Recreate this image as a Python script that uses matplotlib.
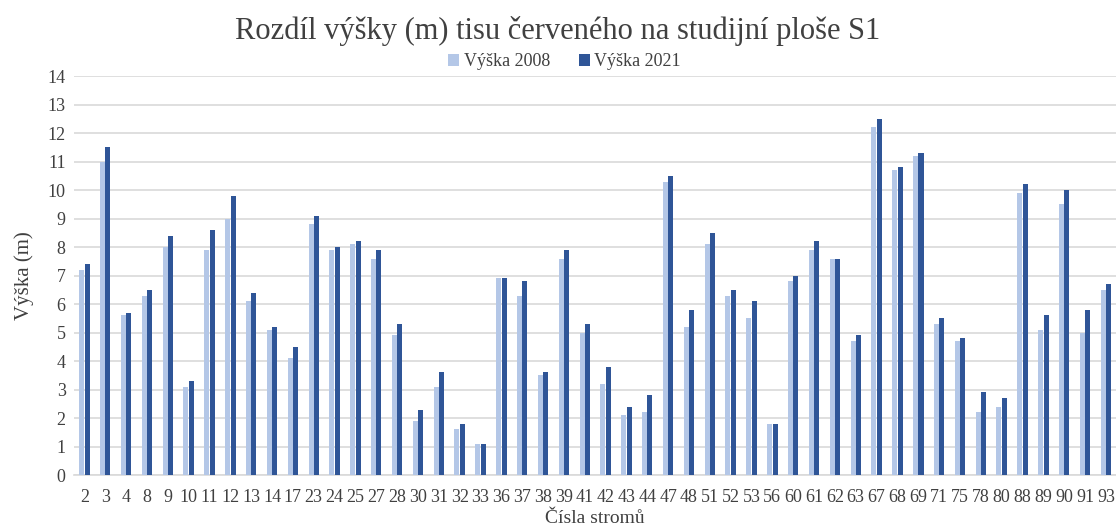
import matplotlib
matplotlib.use("Agg")
import matplotlib.pyplot as plt
import numpy as np

categories = ["2", "3", "4", "8", "9", "10", "11", "12", "13", "14", "17", "23", "24", "25", "27",
              "28", "30", "31", "32", "33", "36", "37", "38", "39", "41", "42", "43", "44", "47",
              "48", "51", "52", "53", "56", "60", "61", "62", "63", "67", "68", "69", "71", "75",
              "78", "80", "88", "89", "90", "91", "93"]
vyska_2008 = [7.2, 11.0, 5.6, 6.3, 8.0, 3.1, 7.9, 9.0, 6.1, 5.1, 4.1, 8.8, 7.9, 8.1, 7.6,
              4.9, 1.9, 3.1, 1.6, 1.1, 6.9, 6.3, 3.5, 7.6, 5.0, 3.2, 2.1, 2.2, 10.3,
              5.2, 8.1, 6.3, 5.5, 1.8, 6.8, 7.9, 7.6, 4.7, 12.2, 10.7, 11.2, 5.3, 4.7,
              2.2, 2.4, 9.9, 5.1, 9.5, 5.0, 6.5]
vyska_2021 = [7.4, 11.5, 5.7, 6.5, 8.4, 3.3, 8.6, 9.8, 6.4, 5.2, 4.5, 9.1, 8.0, 8.2, 7.9,
              5.3, 2.3, 3.6, 1.8, 1.1, 6.9, 6.8, 3.6, 7.9, 5.3, 3.8, 2.4, 2.8, 10.5,
              5.8, 8.5, 6.5, 6.1, 1.8, 7.0, 8.2, 7.6, 4.9, 12.5, 10.8, 11.3, 5.5, 4.8,
              2.9, 2.7, 10.2, 5.6, 10.0, 5.8, 6.7]
series_labels = ["Výška 2008", "Výška 2021"]
title = "Rozdíl výšky (m) tisu červeného na studijní ploše S1"
xlabel = "Čísla stromů"
ylabel = "Výška (m)"

plt.rcParams['font.family'] = ['Liberation Serif', 'DejaVu Serif']

fig = plt.figure(figsize=(11.16, 5.29), dpi=100)
ax = fig.add_axes([0.0663, 0.102, 0.934, 0.754])

x = np.arange(len(categories))
w = 0.24
c_light = "#B4C7E7"
c_dark = "#2F5597"
ax.bar(x - 0.13, vyska_2008, width=w, color=c_light, label=series_labels[0], zorder=3)
ax.bar(x + 0.13, vyska_2021, width=w, color=c_dark, label=series_labels[1], zorder=3)

ax.set_xlim(-0.5, len(categories) - 0.5)
ax.set_ylim(0, 14)
ax.set_yticks(range(0, 15))
ax.set_xticks(x)
ax.set_xticklabels(categories)
ax.tick_params(axis='both', length=0, labelsize=13, colors="#404040", pad=6)
ax.tick_params(axis='x', pad=10)
ax.grid(axis='y', color="#D9D9D9", linewidth=1.2, zorder=0)
for s in ["top", "right", "left"]:
    ax.spines[s].set_visible(False)
ax.spines["bottom"].set_color("#D9D9D9")
ax.spines["bottom"].set_linewidth(1.2)

ax.set_xlabel(xlabel, fontsize=14, color="#404040", labelpad=3)
ax.set_ylabel(ylabel, fontsize=15, color="#404040", labelpad=10)

fig.suptitle(title, fontsize=22, color="#404040", y=0.97)
leg = fig.legend(loc="upper center", bbox_to_anchor=(0.506, 0.93), ncol=2, frameon=False,
                 fontsize=13, handlelength=0.6, handleheight=0.6, handletextpad=0.25,
                 columnspacing=1.6, labelcolor="#404040")

fig.savefig("out.png", dpi=100)
